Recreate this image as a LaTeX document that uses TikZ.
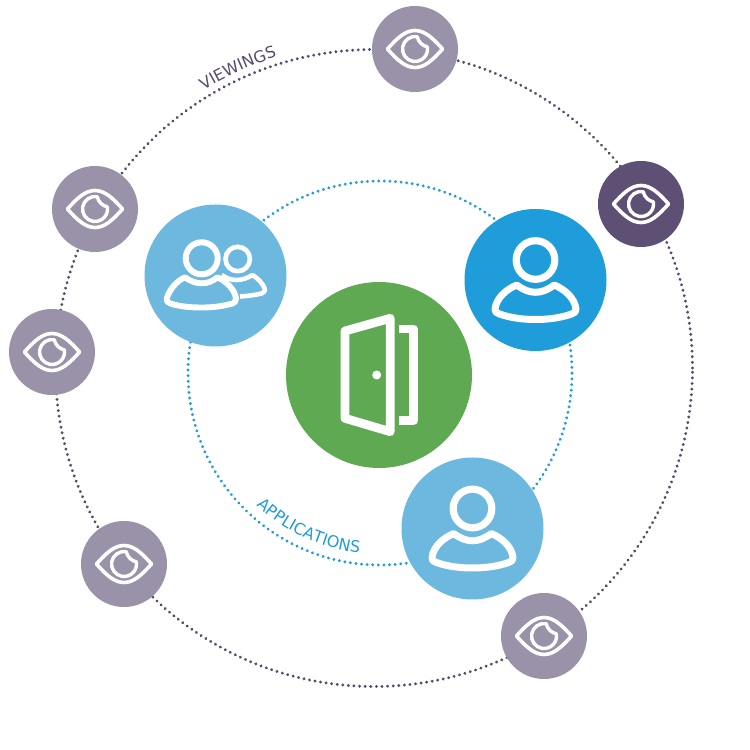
\documentclass[tikz,border=0pt]{standalone}
\usepackage{fontspec}
\setmainfont{DejaVu Sans}
\usetikzlibrary{decorations.text}
\definecolor{greydisc}{HTML}{9A92A8}
\definecolor{purpledisc}{HTML}{5E4F75}
\definecolor{lightdisc}{HTML}{6CB8DE}
\definecolor{bluedisc}{HTML}{1F9CDA}
\definecolor{greendisc}{HTML}{5FA952}
\definecolor{ringpurple}{HTML}{564A6B}
\tikzset{
  x=1pt,y=1pt,
  disc/.style={circle,inner sep=0pt,minimum size=#1,draw=none},
  eyedisc/.style={disc=86pt,fill=greydisc},
  persondisc/.style={disc=142pt,fill=lightdisc},
  dotring/.style={line width=3.2pt,line cap=round,dash pattern=on 0.01pt off 5.6pt},
  icon/.style={draw=white,line join=round,fill=none},
  eyeicon/.pic={
    \draw[icon,line width=3.6pt] (-27.5,0) .. controls (-17,12) and (-9,18.5) .. (0,18.5)
      .. controls (9,18.5) and (17,12) .. (27.5,0)
      .. controls (17,-12) and (9,-18.5) .. (0,-18.5)
      .. controls (-9,-18.5) and (-17,-12) .. cycle;
    \draw[icon,line width=3.4pt] (2.2,12.3) arc[start angle=80,end angle=370,radius=12.5]
      .. controls (8,3) and (3.5,6.5) .. cycle;
  },
  personicon/.pic={
    \draw[icon,line width=7.2pt] (0,20) circle (19.3pt);
    \draw[icon,line width=7pt] (0,-12.3) .. controls (6,-12.3) and (12,-10) .. (18.8,-5)
      .. controls (28,-9) and (39,-17) .. (40.5,-29)
      .. controls (41,-32) and (39,-33) .. (36,-34)
      .. controls (25,-38) and (12,-39.5) .. (0,-39.5)
      .. controls (-12,-39.5) and (-25,-38) .. (-36,-34)
      .. controls (-39,-33) and (-41,-32) .. (-40.5,-29)
      .. controls (-39,-17) and (-28,-9) .. (-18.8,-5)
      .. controls (-12,-10) and (-6,-12.3) .. cycle;
  },
  groupicon/.pic={
    \draw[icon,line width=6pt] (-13.8,17.2) circle (16pt);
    \draw[icon,line width=5.9pt] (-13.8,-7.8) .. controls (-8,-7.8) and (-3,-6) .. (1.8,-1.8)
      .. controls (10,-5.5) and (19,-13) .. (20.5,-23)
      .. controls (20.8,-26) and (19,-27) .. (17,-28)
      .. controls (6,-31) and (-3,-32) .. (-13.8,-32)
      .. controls (-26,-32) and (-36,-31) .. (-45,-28)
      .. controls (-48,-27) and (-49,-26) .. (-48.8,-23)
      .. controls (-46,-14) and (-39,-5.5) .. (-30.5,-1.8)
      .. controls (-25,-6) and (-19,-7.8) .. cycle;
    \draw[icon,line width=4.7pt] (22.2,16.5) circle (12.2pt);
    \draw[icon,line width=4.6pt] (6.2,0.5) .. controls (11,-3) and (16,-4.5) .. (21,-4.5)
      .. controls (27,-4.5) and (32,-2.5) .. (37,0.5)
      .. controls (43,-3) and (48,-9) .. (49.5,-14)
      .. controls (49.8,-16) and (48,-17) .. (46,-18)
      .. controls (40,-19.5) and (32,-20.5) .. (24.5,-21);
  },
  dooricon/.pic={
    \draw[icon,line width=8.8pt] (-34,44) -- (11.3,56.7) -- (11.3,-56.7) -- (-34,-43.3) -- cycle;
    \fill[white] (-2.3,0) circle (4.5pt);
    \draw[icon,line width=8.8pt] (20.3,46) -- (34.3,46) -- (34.3,-45.7) -- (20.3,-45.7);
  },
}
\begin{document}
\begin{tikzpicture}
\useasboundingbox (0,0) rectangle (750,750);
\coordinate (outerc) at (374,382);
\coordinate (innerc) at (380,377);
\draw[dotring,draw=ringpurple] (outerc) circle (318.5pt);
\draw[dotring,draw=bluedisc] (innerc) circle (192pt);
\path[decorate,decoration={text along path,text align=left,
  text={|\fontsize{16}{16}\selectfont\color{ringpurple}|VIEWINGS}}]
  (outerc) ++(121.5:326pt) arc[start angle=121.5,end angle=90,radius=326pt];
\path[decorate,decoration={text along path,text align=left,
  text={|\fontsize{16}{16}\selectfont\color{bluedisc}|APPLICATIONS}}]
  (innerc) ++(227:181pt) arc[start angle=227,end angle=290,radius=181pt];
\node[disc=186pt,fill=greendisc] (door) at (379,375) {};
\node[persondisc] (group) at (215.5,474.5) {};
\node[persondisc,fill=bluedisc] (person) at (535.5,470) {};
\node[persondisc] (applicant) at (472.5,221.5) {};
\node[eyedisc] (eyeA) at (415,701) {};
\node[eyedisc,fill=purpledisc] (eyeB) at (641,546) {};
\node[eyedisc] (eyeC) at (95,541) {};
\node[eyedisc] (eyeD) at (52,398) {};
\node[eyedisc] (eyeE) at (124,186) {};
\node[eyedisc] (eyeF) at (544,114) {};
\pic at (door) {dooricon};
\pic at (group) {groupicon};
\pic at (person) {personicon};
\pic at (applicant) {personicon};
\foreach \n in {eyeA,eyeB,eyeC,eyeD,eyeE,eyeF} {\pic at (\n) {eyeicon};}
\end{tikzpicture}
\end{document}
